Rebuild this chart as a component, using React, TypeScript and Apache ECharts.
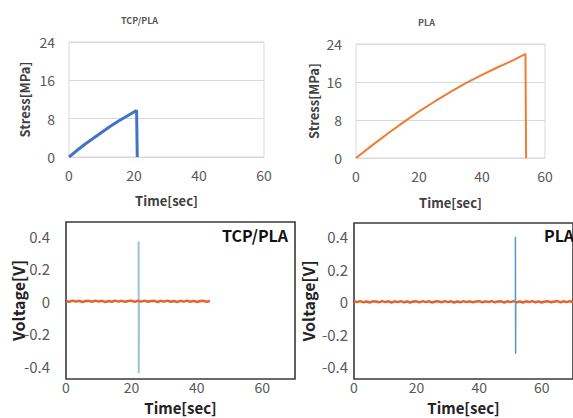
import { useEffect, useRef } from 'react';
import * as echarts from 'echarts';

// ---- data ----
const stressTicks = [0, 8, 16, 24];
const timeTicks = [0, 20, 40, 60];
const voltTicks = [-0.4, -0.2, 0, 0.2, 0.4];

const tcpStressTime = [0, 2.5, 5, 7.5, 10, 12.5, 15, 17.5, 20, 20.8, 21.0];
const tcpStressVal = [0, 1.4, 2.7, 3.9, 5.1, 6.3, 7.4, 8.4, 9.4, 9.7, 0];

const plaStressTime = [0, 5, 10, 15, 20, 25, 30, 35, 40, 45, 50, 53.8, 54.0];
const plaStressVal = [0, 2.6, 5.1, 7.5, 9.8, 11.9, 13.9, 15.8, 17.5, 19.1, 20.6, 21.9, 0];

const tcpSpikeTime = [22.2, 22.2, 22.25, 22.3];
const tcpSpikeVal = [0, 0.37, -0.445, 0];

const plaSpikeTime = [51.6, 51.6, 51.65, 51.7];
const plaSpikeVal = [0, 0.4, -0.32, 0];

const tcpNoise = [0.002, -0.003, 0.004, -0.002, 0.003, -0.004, 0.002, 0.003, -0.003, 0.004,
  -0.002, 0.003, -0.004, 0.002, -0.003, 0.004, -0.002, 0.003, -0.003, 0.002,
  0.004, -0.003, 0.003, -0.002, 0.004, -0.003, 0.002, 0.003, -0.004, 0.003,
  -0.002, 0.004, -0.003, 0.002, -0.004, 0.003, -0.002, 0.004, -0.003, 0.003,
  -0.004, 0.002, 0.003, -0.003, 0.002];

const plaNoise = [0.003, -0.002, 0.004, -0.003, 0.002, -0.004, 0.003, 0.002, -0.003, 0.004,
  -0.002, 0.003, -0.004, 0.003, -0.002, 0.004, -0.003, 0.002, -0.004, 0.003,
  0.002, -0.003, 0.004, -0.002, 0.003, -0.004, 0.002, 0.003, -0.003, 0.004,
  -0.002, 0.003, -0.004, 0.002, -0.003, 0.004, -0.002, 0.003, -0.003, 0.002,
  0.004, -0.003, 0.003, -0.002, 0.004, -0.003, 0.002, 0.003, -0.004, 0.003,
  -0.002, 0.004, -0.003, 0.002, -0.004, 0.003, -0.002, 0.004, -0.003, 0.003,
  -0.004, 0.002, 0.003, -0.003, 0.002, 0.004, -0.003, 0.003, -0.002, 0.004, -0.003];

const FONT = '"Noto Sans CJK JP", "Noto Sans", sans-serif';
const GREY = '#595959';

const pairs = (xs: number[], ys: number[]) => xs.map((x, i) => [x, ys[i]]);
const noisePairs = (ys: number[]) => ys.map((y, i) => [i, y]);

export default function App() {
  const ref = useRef<HTMLDivElement>(null);
  useEffect(() => {
    if (!ref.current) return;
    const chart = echarts.init(ref.current, null, { renderer: 'svg' });

    const topX = (gi: number, gap: number) => ({
      type: 'value', gridIndex: gi, min: 0, max: 60, interval: 20,
      axisLine: { show: false }, axisTick: { show: false }, splitLine: { show: false },
      axisLabel: { color: GREY, fontSize: 14, fontFamily: FONT, margin: 11 },
      name: 'Time[sec]', nameLocation: 'middle', nameGap: gap, nameMoveOverlap: false,
      nameTextStyle: { color: '#404040', fontSize: 13, fontWeight: 'bold', fontFamily: FONT },
    });
    const topY = (gi: number, gap: number) => ({
      type: 'value', gridIndex: gi, min: 0, max: 24, interval: 8,
      axisLine: { show: false }, axisTick: { show: false },
      splitLine: { show: true, lineStyle: { color: '#d9d9d9', width: 1 } },
      axisLabel: { color: GREY, fontSize: 14, fontFamily: FONT, margin: 14, customValues: stressTicks },
      name: 'Stress[MPa]', nameLocation: 'middle', nameGap: gap, nameMoveOverlap: false,
      nameTextStyle: { color: '#404040', fontSize: 13, fontWeight: 'bold', fontFamily: FONT },
    });
    const botX = (gi: number) => ({
      type: 'value', gridIndex: gi, min: 0, max: 70,
      axisLine: { show: false }, axisTick: { show: false }, splitLine: { show: false },
      axisLabel: { color: GREY, fontSize: 14, lineHeight: 13, fontFamily: FONT, margin: 1, customValues: timeTicks },
      name: 'Time[sec]', nameLocation: 'middle', nameGap: 20, nameMoveOverlap: false,
      nameTextStyle: { color: '#222', fontSize: 15, lineHeight: 16, fontWeight: 'bold', fontFamily: FONT },
    });
    const botY = (gi: number, min: number, max: number, margin: number, gap: number) => ({
      type: 'value', gridIndex: gi, min, max,
      axisLine: { show: false }, axisTick: { show: false }, splitLine: { show: false },
      axisLabel: { color: GREY, fontSize: 15, fontFamily: FONT, margin, customValues: voltTicks },
      name: 'Voltage[V]', nameLocation: 'middle', nameGap: gap, nameMoveOverlap: false,
      nameTextStyle: { color: '#222', fontSize: 16, fontWeight: 'bold', fontFamily: FONT },
    });

    chart.setOption({
      animation: false,
      backgroundColor: '#ffffff',
      grid: [
        { left: 69, top: 42, width: 195, height: 115, show: true, borderColor: '#d9d9d9', borderWidth: 1 },
        { left: 356, top: 44, width: 189, height: 114, show: true, borderColor: '#d9d9d9', borderWidth: 1 },
        { left: 66, top: 222, width: 229, height: 157, show: true, borderColor: '#3a3a3a', borderWidth: 1.6 },
        { left: 354, top: 223, width: 226, height: 156, show: true, borderColor: '#3a3a3a', borderWidth: 1.6 },
      ],
      xAxis: [topX(0, 37), topX(1, 38), botX(2), botX(3)],
      yAxis: [topY(0, 38), topY(1, 36), botY(2, -0.48, 0.49, 16, 40), botY(3, -0.475, 0.485, 6, 38)],
      graphic: [
        { type: 'text', left: 143 - 22, top: 16, style: { text: 'TCP/PLA', fill: GREY, font: `bold 9px ${FONT}` } },
        { type: 'text', left: 427 - 9, top: 18, style: { text: 'PLA', fill: GREY, font: `bold 9px ${FONT}` } },
        { type: 'text', right: 573 - 288, top: 227, style: { text: 'TCP/PLA', fill: '#111', font: `bold 16px ${FONT}`, align: 'right' } },
        { type: 'text', left: 544, top: 227, style: { text: 'PLA', fill: '#111', font: `bold 16px ${FONT}` } },
      ],
      series: [
        { type: 'line', xAxisIndex: 0, yAxisIndex: 0, data: pairs(tcpStressTime, tcpStressVal), showSymbol: false, lineStyle: { color: '#4472C4', width: 3 } },
        { type: 'line', xAxisIndex: 1, yAxisIndex: 1, data: pairs(plaStressTime, plaStressVal), showSymbol: false, lineStyle: { color: '#ED7D31', width: 2 } },
        { type: 'line', xAxisIndex: 2, yAxisIndex: 2, data: pairs(tcpSpikeTime, tcpSpikeVal), showSymbol: false, lineStyle: { color: '#9CC3DA', width: 2 } },
        { type: 'line', xAxisIndex: 2, yAxisIndex: 2, data: noisePairs(tcpNoise), showSymbol: false, lineStyle: { color: '#E4622E', width: 2.5 } },
        { type: 'line', xAxisIndex: 3, yAxisIndex: 3, data: noisePairs(plaNoise), showSymbol: false, lineStyle: { color: '#E4622E', width: 2.5 } },
        { type: 'line', xAxisIndex: 3, yAxisIndex: 3, data: pairs(plaSpikeTime, plaSpikeVal), showSymbol: false, lineStyle: { color: '#5B97C4', width: 1.5 } },
      ],
    });
    return () => chart.dispose();
  }, []);
  return <div ref={ref} style={{ position: 'fixed', left: 0, top: 0, width: 573, height: 418, background: '#fff' }} />;
}
